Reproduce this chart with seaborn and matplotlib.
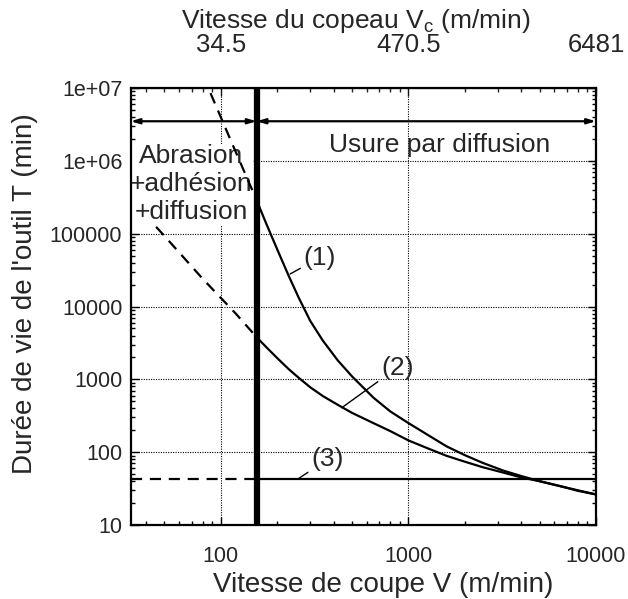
import matplotlib
matplotlib.use("Agg")
import matplotlib.pyplot as plt
import seaborn as sns

# Cutting speed V (m/min) and tool life T (min)
v_curve = [155, 175, 200, 230, 260, 300, 350, 420, 500, 650, 800, 1000,
           1300, 1600, 2000, 2500, 3200, 4000, 5000, 6500, 8000, 10000]
t_curve1 = [288000, 135000, 60300, 26300, 13200, 6300, 3390, 1820, 1100, 562,
            363, 251, 166, 120, 91, 71, 56, 47, 40, 34, 29.5, 26.3]
t_curve2 = [3800, 2750, 1950, 1380, 1050, 776, 589, 447, 347, 251, 195, 145,
            110, 89, 74, 62, 52.5, 45, 40, 34, 30, 26.3]

# Extrapolations below the limit speed (dashed)
v_ext1 = [88, 114, 155]
t_ext1 = [8.5e6, 1.8e6, 288000]
v_ext2 = [33, 50, 80, 120, 155]
t_ext2 = [3.0e5, 9.3e4, 2.4e4, 8.0e3, 3800]

# Curve (3): constant tool life
v_flat_dash = [33, 155]
v_flat_solid = [155, 10000]
t_flat = 43

v_limit = 155          # boundary between the two wear regimes
t_arrow = 3.5e6        # level of the regime arrows

x_ticks = [100, 1000, 10000]
x_labels = ["100", "1000", "10000"]
top_labels = ["34.5", "470.5", "6481"]
y_ticks = [10, 100, 1000, 10000, 100000, 1e6, 1e7]
y_labels = ["10", "100", "1000", "10000", "100000", "1e+06", "1e+07"]

sns.set_style("ticks")
plt.rcParams["font.family"] = ["Liberation Sans", "DejaVu Sans"]
plt.rcParams["mathtext.default"] = "regular"

fig = plt.figure(figsize=(6.28, 5.99), dpi=100)
ax = fig.add_axes([0.208, 0.1235, 0.741, 0.7295])
ax.set_xscale("log")
ax.set_yscale("log")
ax.set_xlim(33, 10000)
ax.set_ylim(10, 1e7)

ax.grid(which="major", linestyle=(0, (1, 1.2)), color="black", linewidth=0.8)

lw = 1.6
dash = (0, (5, 3.5))
line_kw = dict(ax=ax, color="black", lw=lw, sort=False, estimator=None)
sns.lineplot(x=v_curve, y=t_curve1, zorder=3, **line_kw)
sns.lineplot(x=v_curve, y=t_curve2, zorder=3, **line_kw)
sns.lineplot(x=v_ext1, y=t_ext1, linestyle=dash, zorder=3, **line_kw)
sns.lineplot(x=v_ext2, y=t_ext2, linestyle=dash, zorder=2, **line_kw)
sns.lineplot(x=v_flat_dash, y=[t_flat] * 2, linestyle=dash, zorder=3, **line_kw)
sns.lineplot(x=v_flat_solid, y=[t_flat] * 2, zorder=3, **line_kw)

ax.axvline(v_limit, color="black", lw=4.5, zorder=4)

# Regime arrows
arrow_kw = dict(arrowstyle="<|-|>,head_length=0.5,head_width=0.15",
                color="black", lw=1.6, shrinkA=0, shrinkB=0)
ax.annotate("", xy=(33, t_arrow), xytext=(v_limit, t_arrow),
            arrowprops=arrow_kw, annotation_clip=False)
ax.annotate("", xy=(v_limit, t_arrow), xytext=(10000, t_arrow),
            arrowprops=arrow_kw, annotation_clip=False)

fs_note = 19
ax.text(1475, 1.65e6, "Usure par diffusion", fontsize=fs_note,
        ha="center", va="center")
ax.text(69.5, 4.8e5, "Abrasion\n+adhésion\n+diffusion", fontsize=fs_note,
        ha="center", va="center", linespacing=1.2, zorder=2.5,
        bbox=dict(facecolor="white", edgecolor="none", pad=0.5))

lead_kw = dict(arrowstyle="-", color="black", lw=1.0, shrinkA=0, shrinkB=0)
ax.annotate("(1)", xy=(234, 2.8e4), xytext=(276, 4.7e4), fontsize=fs_note,
            ha="left", va="center", arrowprops=lead_kw)
ax.annotate("(2)", xy=(441, 408), xytext=(715, 1.45e3), fontsize=fs_note,
            ha="left", va="center", arrowprops=lead_kw)
ax.annotate("(3)", xy=(258, t_flat), xytext=(303, 80), fontsize=fs_note,
            ha="left", va="center", arrowprops=lead_kw)

ax.set_xticks(x_ticks, labels=x_labels)
ax.set_yticks(y_ticks, labels=y_labels)
ax.tick_params(which="both", direction="in", top=False, right=True,
               width=1.0, color="black", labelsize=15.5)
ax.tick_params(which="major", length=6)
ax.tick_params(which="minor", length=3)
ax.tick_params(axis="x", pad=15)
ax.tick_params(axis="y", pad=6)
for s in ax.spines.values():
    s.set_linewidth(1.6)
    s.set_color("black")

ax.set_xlabel("Vitesse de coupe V (m/min)", fontsize=20, va="top")
ax.xaxis.set_label_coords(0.543, -0.108)
ax.set_ylabel("Durée de vie de l'outil T (min)", fontsize=20)
ax.yaxis.set_label_coords(-0.198, 0.53)

top = ax.secondary_xaxis("top", functions=(lambda v: v, lambda v: v))
top.set_xticks(x_ticks, labels=top_labels)
top.tick_params(which="both", direction="in", labelsize=18.5, width=1.0)
top.tick_params(which="major", length=6, pad=22)
top.tick_params(which="minor", length=3)
top.set_xlabel("Vitesse du copeau V$_c$ (m/min)", fontsize=19)
top.xaxis.set_label_coords(0.484, 1.138, transform=ax.transAxes)

fig.savefig("out.png", dpi=100)
